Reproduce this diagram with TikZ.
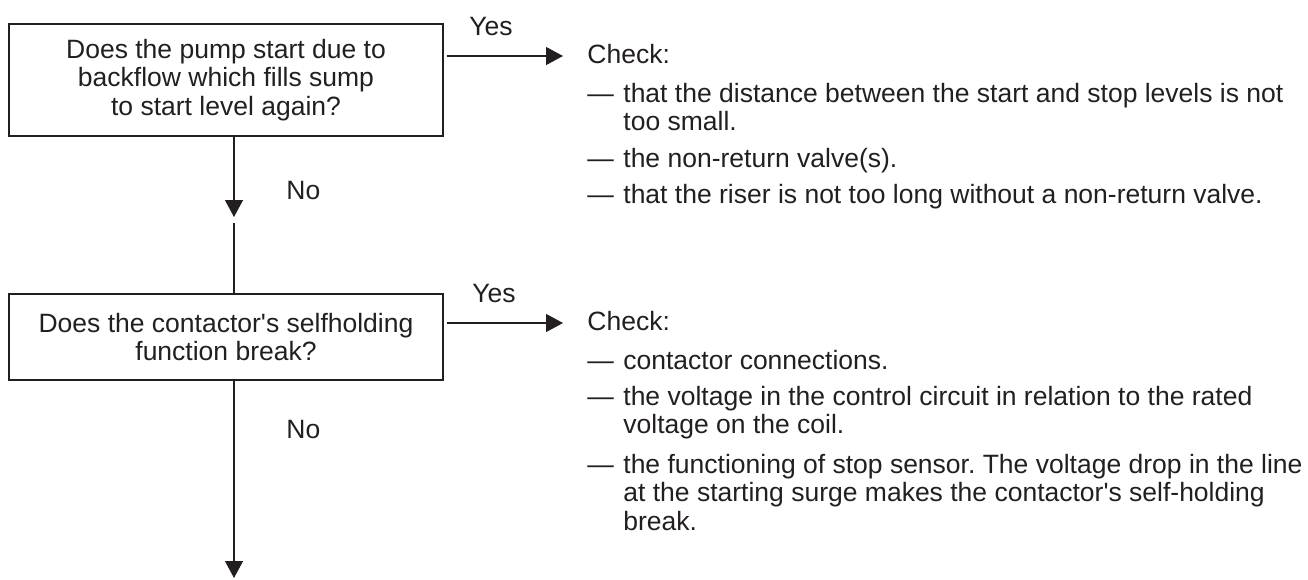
\documentclass[tikz,border=0pt]{standalone}
\usepackage{fontspec}
\setmainfont{Liberation Sans}
\usetikzlibrary{arrows.meta,calc}
\definecolor{ink}{RGB}{35,31,32}
\frenchspacing
\newcommand{\itm}[1]{\begin{tabular}[t]{@{}l@{\hspace{4.75pt}}l@{}}#1\end{tabular}}
\begin{document}
\begin{tikzpicture}[x=0.5pt,y=-0.5pt,
  txt/.style={font=\fontsize{13.25}{14.25}\selectfont, text=ink},
  qbox/.style={txt, draw=ink, line width=0.6pt, align=center, inner sep=0pt},
  lbl/.style={txt, inner sep=0pt, anchor=base west},
  ln/.style={draw=ink, line width=0.6pt},
  arr/.style={ln, -{Triangle[length=8.5pt,width=9pt]}}]
\useasboundingbox (0,0) rectangle (1308,579);
% question boxes
\node[qbox, minimum width=217pt, minimum height=56pt] (b1) at (226,80)
  {Does the pump start due to\\backflow which fills sump\\to start level again?};
\node[qbox, minimum width=217pt, minimum height=43pt] (b2) at (226,337)
  {Does the contactor\textquotesingle s selfholding\\function break?};
% labels
\node[lbl] (y1) at (469,35) {Yes};
\node[lbl] (n1) at (286,199) {No};
\node[lbl] (y2) at (472,302) {Yes};
\node[lbl] (n2) at (286,438) {No};
% check lists
\node[lbl] (c1) at (587,63) {Check:};
\node[lbl] (i11) at (587,102) {\itm{\textemdash & that the distance between the start and stop levels is not\\ & too small.}};
\node[lbl] (i12) at (587,167) {\itm{\textemdash & the non-return valve(s).}};
\node[lbl] (i13) at (587,203) {\itm{\textemdash & that the riser is not too long without a non-return valve.}};
\node[lbl] (c2) at (587,330) {Check:};
\node[lbl] (i21) at (587,369) {\itm{\textemdash & contactor connections.}};
\node[lbl] (i22) at (587,405) {\itm{\textemdash & the voltage in the control circuit in relation to the rated\\ & voltage on the coil.}};
\node[lbl] (i23) at (587,473) {\itm{\textemdash & the functioning of stop sensor. The voltage drop in the line\\ & at the starting surge makes the contactor\textquotesingle s self-holding\\ & break.}};
% connector end points
\coordinate (a1e) at (563,56);
\coordinate (a2e) at (563,323);
\coordinate (v1) at (234,217);
\coordinate (v1b) at (234,223);
\coordinate (v2) at (234,578);
% connectors
\draw[arr] ($(b1.east |- a1e)+(3,0)$) -- (a1e);
\draw[arr] ($(b2.east |- a2e)+(3,0)$) -- (a2e);
\draw[arr] (b1.south -| v1) -- (v1);
\draw[ln] (v1b) -- (b2.north -| v1b);
\draw[arr] (b2.south -| v2) -- (v2);
\end{tikzpicture}
\end{document}
